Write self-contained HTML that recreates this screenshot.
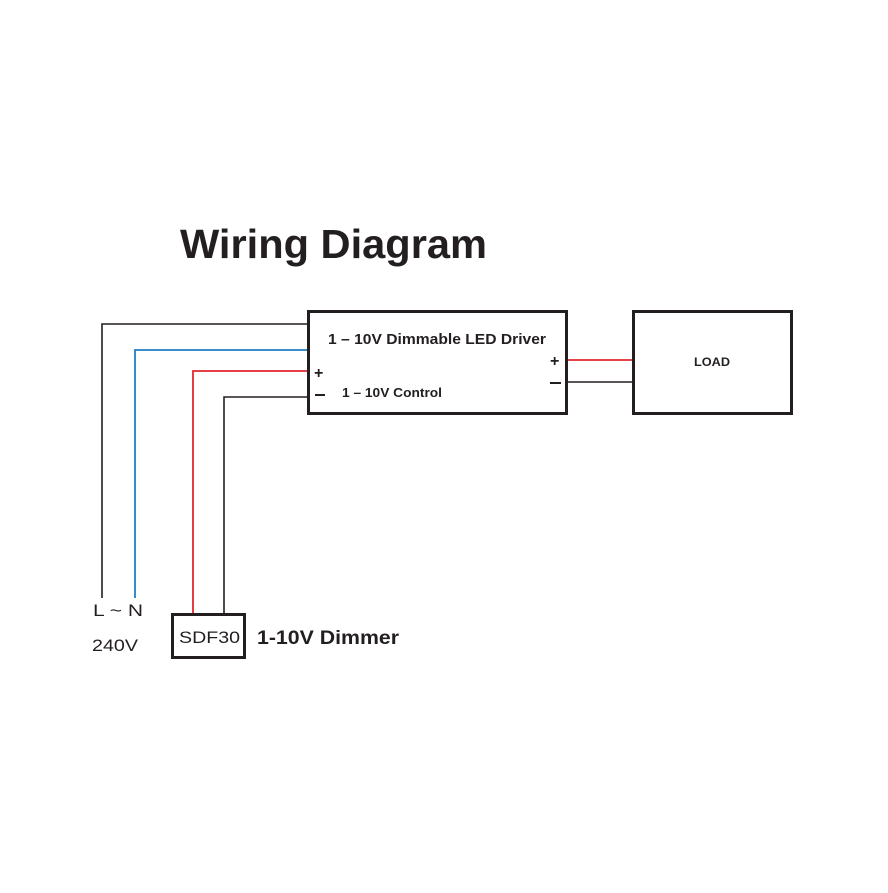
<!DOCTYPE html>
<html><head><meta charset="utf-8"><style>html,body{margin:0;padding:0;background:#fff}</style></head>
<body>
<svg width="888" height="888" viewBox="0 0 888 888" xmlns="http://www.w3.org/2000/svg" font-family="Liberation Sans, sans-serif">
<rect width="888" height="888" fill="#fff"/>
<text x="180" y="258" font-size="41" font-weight="bold" fill="#231f20" textLength="307" lengthAdjust="spacingAndGlyphs">Wiring Diagram</text>
<polyline points="102,598 102,324 308,324" fill="none" stroke="#231f20" stroke-width="1.6"/>
<polyline points="135,598 135,350 308,350" fill="none" stroke="#1f7fc4" stroke-width="1.8"/>
<polyline points="193,614 193,371 308,371" fill="none" stroke="#e3262d" stroke-width="1.8"/>
<polyline points="224,614 224,397 308,397" fill="none" stroke="#231f20" stroke-width="1.6"/>
<line x1="568" y1="360" x2="633" y2="360" stroke="#e3262d" stroke-width="1.8"/>
<line x1="568" y1="382" x2="633" y2="382" stroke="#231f20" stroke-width="1.6"/>
<rect x="308.5" y="311.5" width="258" height="102" fill="none" stroke="#231f20" stroke-width="3"/>
<rect x="633.5" y="311.5" width="158" height="102" fill="none" stroke="#231f20" stroke-width="3"/>
<rect x="172.5" y="614.5" width="72" height="43" fill="none" stroke="#231f20" stroke-width="3"/>
<text x="328" y="344" font-size="15" font-weight="bold" fill="#231f20" textLength="218" lengthAdjust="spacingAndGlyphs">1 – 10V Dimmable LED Driver</text>
<text x="342" y="397" font-size="13" font-weight="bold" fill="#231f20" textLength="100" lengthAdjust="spacingAndGlyphs">1 – 10V Control</text>
<text x="314" y="378" font-size="16" font-weight="bold" fill="#231f20">+</text>
<line x1="315" y1="395" x2="325" y2="395" stroke="#231f20" stroke-width="2"/>
<text x="550" y="366" font-size="16" font-weight="bold" fill="#231f20">+</text>
<line x1="550" y1="383" x2="561" y2="383" stroke="#231f20" stroke-width="2"/>
<text x="694" y="366" font-size="12" font-weight="bold" fill="#231f20" textLength="36" lengthAdjust="spacingAndGlyphs">LOAD</text>
<text x="93" y="616" font-size="17" fill="#231f20" textLength="50" lengthAdjust="spacingAndGlyphs">L ~ N</text>
<text x="92" y="651" font-size="17" fill="#231f20" textLength="46" lengthAdjust="spacingAndGlyphs">240V</text>
<text x="179" y="643" font-size="17" fill="#231f20" textLength="61" lengthAdjust="spacingAndGlyphs">SDF30</text>
<text x="257" y="644" font-size="19" font-weight="bold" fill="#231f20" textLength="142" lengthAdjust="spacingAndGlyphs">1-10V Dimmer</text>
</svg>
</body></html>
